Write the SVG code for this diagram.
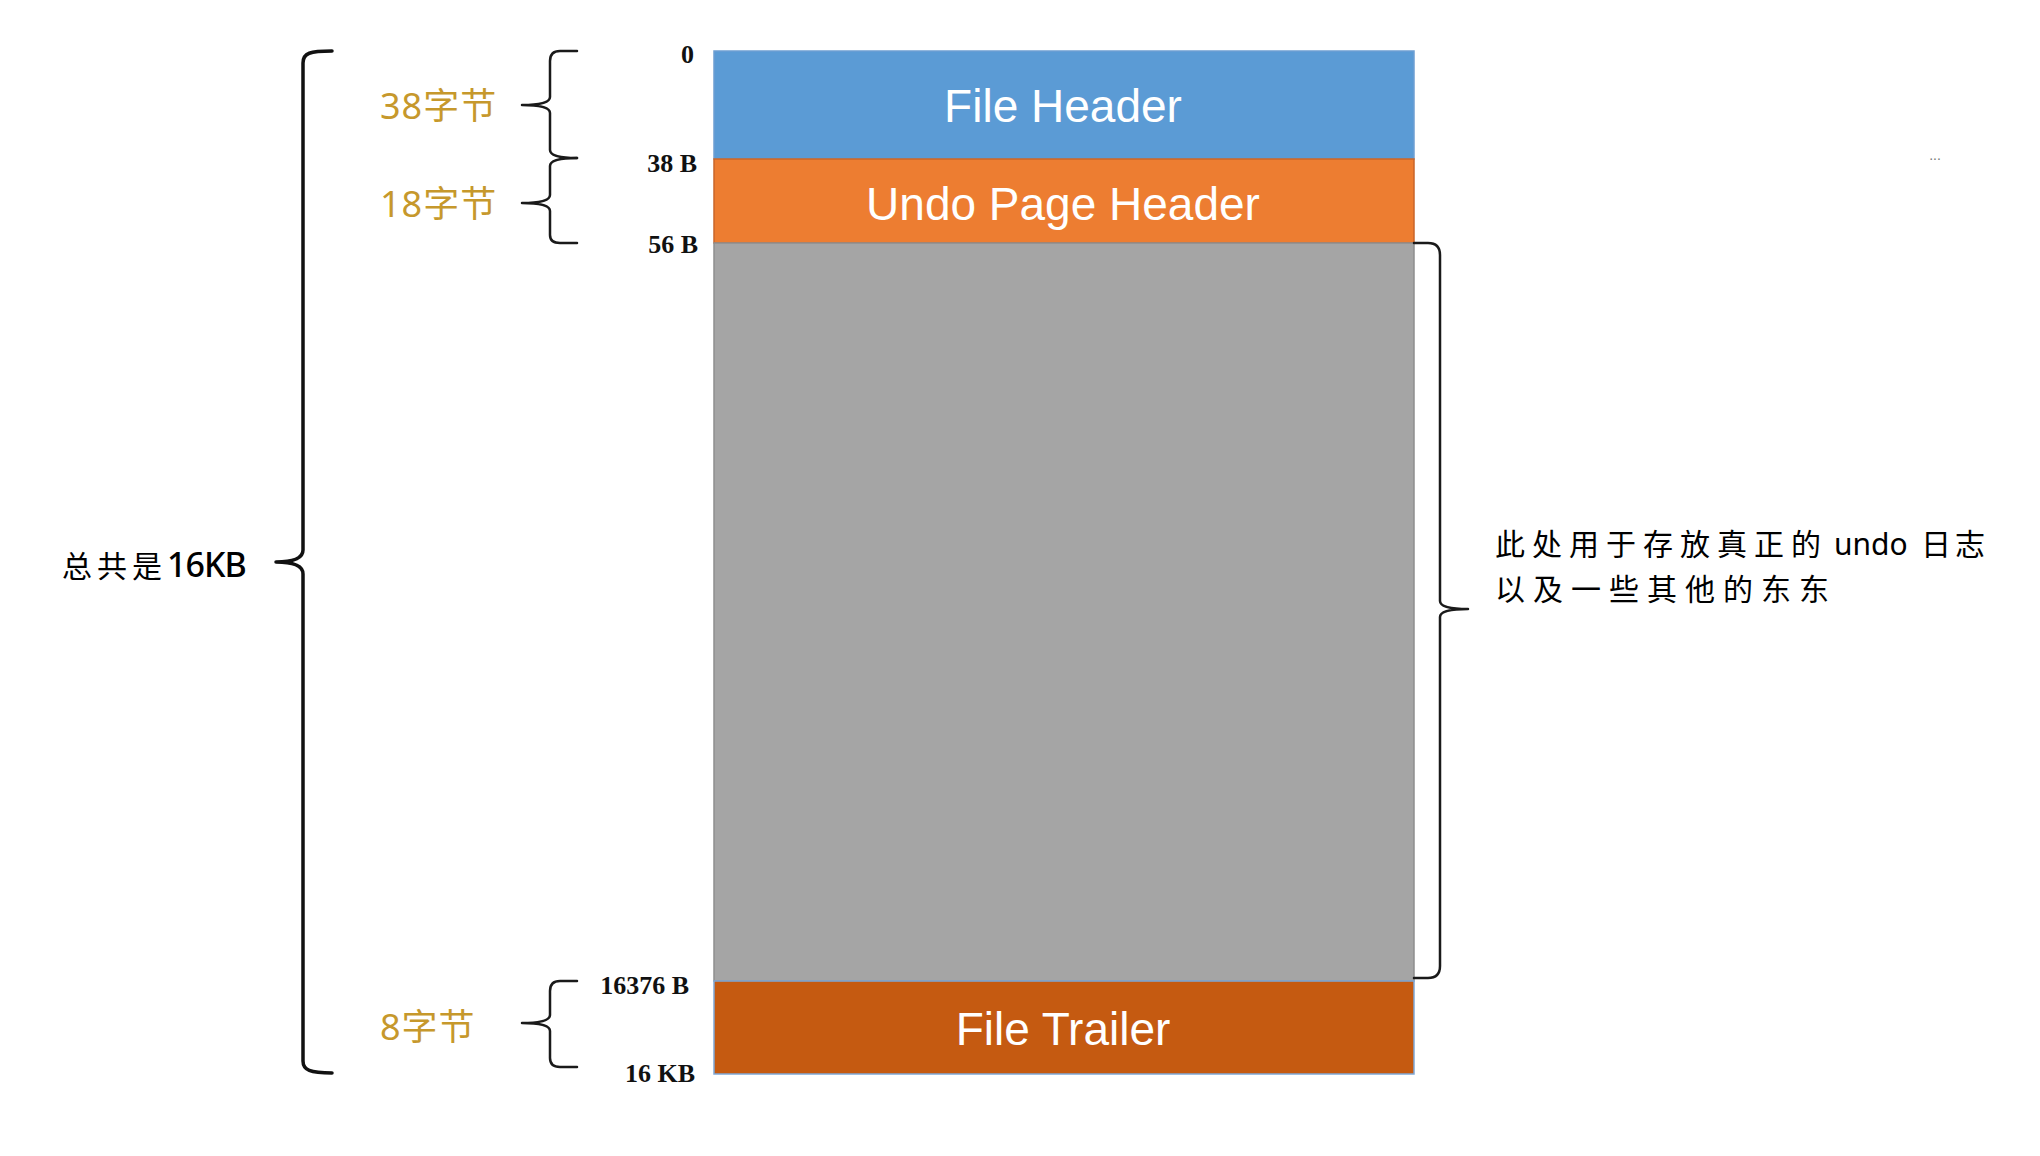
<svg xmlns="http://www.w3.org/2000/svg" width="2040" height="1156" viewBox="0 0 2040 1156">
  <style>
    .seg-label { font-family: "Liberation Sans", Arial, sans-serif; font-size: 46px; fill: #ffffff; text-anchor: middle; }
    .offset { font-family: "Liberation Serif", "Times New Roman", serif; font-size: 26px; font-weight: bold; fill: #111111; text-anchor: end; }
    .size { font-family: "Noto Sans", "Noto Sans CJK SC", sans-serif; font-size: 36px; fill: #C6982C; letter-spacing: 1px; }
    .note { font-family: "Noto Sans CJK SC", sans-serif; font-size: 30px; fill: #000000; }
    .brace { fill: none; stroke: #1a1a1a; stroke-width: 2.5; stroke-linecap: round; stroke-linejoin: round; }
    .brace-big { fill: none; stroke: #111111; stroke-width: 3.5; stroke-linecap: round; stroke-linejoin: round; }
  </style>

  <rect width="2040" height="1156" fill="#ffffff"/>

  <!-- page segments -->
  <g id="file-header">
    <rect x="714" y="51" width="700" height="108" fill="#5B9BD5" stroke="#6E9FD2" stroke-width="1.5"/>
    <text class="seg-label" x="1063" y="122">File Header</text>
  </g>
  <g id="undo-page-header">
    <rect x="714" y="159" width="700" height="84" fill="#ED7D31" stroke="#C9652A" stroke-width="1.5"/>
    <text class="seg-label" x="1063" y="220">Undo Page Header</text>
  </g>
  <g id="undo-log-area">
    <rect x="714" y="243" width="700" height="738" fill="#A5A5A5" stroke="#8E8E8E" stroke-width="1.5"/>
  </g>
  <g id="file-trailer">
    <rect x="714" y="981" width="700" height="93" fill="#C55A11" stroke="#7FA8D6" stroke-width="1.5"/>
    <text class="seg-label" x="1063" y="1045">File Trailer</text>
  </g>

  <!-- byte offsets -->
  <g id="offsets">
    <text class="offset" x="694" y="63">0</text>
    <text class="offset" x="697" y="172">38 B</text>
    <text class="offset" x="698" y="253">56 B</text>
    <text class="offset" x="689" y="994">16376 B</text>
    <text class="offset" x="695" y="1082">16 KB</text>
  </g>

  <!-- braces -->
  <g id="connectors">
    <path class="brace-big" d="M 332 51 C 310 51 303 53 303 63 L 303 550 Q 303 562 276 562 Q 303 562 303 574 L 303 1061 C 303 1070 310 1073 332 1073"/>
    <path class="brace" d="M 577 51 L 560 51 Q 550 51 550 61 L 550 97 Q 550 105 522 105 Q 550 105 550 113 L 550 150 Q 550 158 577 158"/>
    <path class="brace" d="M 577 158 Q 550 158 550 166 L 550 195 Q 550 203 522 203 Q 550 203 550 211 L 550 235 Q 550 243 560 243 L 577 243"/>
    <path class="brace" d="M 577 981 L 560 981 Q 550 981 550 991 L 550 1015 Q 550 1023 522 1023 Q 550 1023 550 1031 L 550 1058 Q 550 1067 560 1067 L 577 1067"/>
    <path class="brace" d="M 1414 243 L 1428 243 Q 1440 243 1440 255 L 1440 601 Q 1440 609 1468 609 Q 1440 609 1440 617 L 1440 966 Q 1440 978 1428 978 L 1414 978"/>
  </g>

  <!-- size labels -->
  <g id="size-labels">
    <text class="size" x="380" y="119">38字节</text>
    <text class="size" x="380" y="217">18字节</text>
    <text class="size" x="380" y="1040">8字节</text>
  </g>

  <g id="total-label">
    <text class="note" x="62" y="577" font-size="32" letter-spacing="5">总共是<tspan font-family="Noto Sans, sans-serif" font-size="34" font-weight="500" letter-spacing="-1">16KB</tspan></text>
  </g>

  <g id="area-note">
    <text class="note" x="1495" y="555" letter-spacing="7">此处用于存放真正的<tspan x="1834" font-family="Noto Sans, sans-serif" letter-spacing="0">undo</tspan><tspan x="1921" letter-spacing="4">日志</tspan></text>
    <text class="note" x="1495" y="600" letter-spacing="8">以及一些其他的东东</text>
  </g>

  <text x="1935" y="160" font-family="Liberation Sans, sans-serif" font-size="14" fill="#777777" text-anchor="middle">...</text>
</svg>
